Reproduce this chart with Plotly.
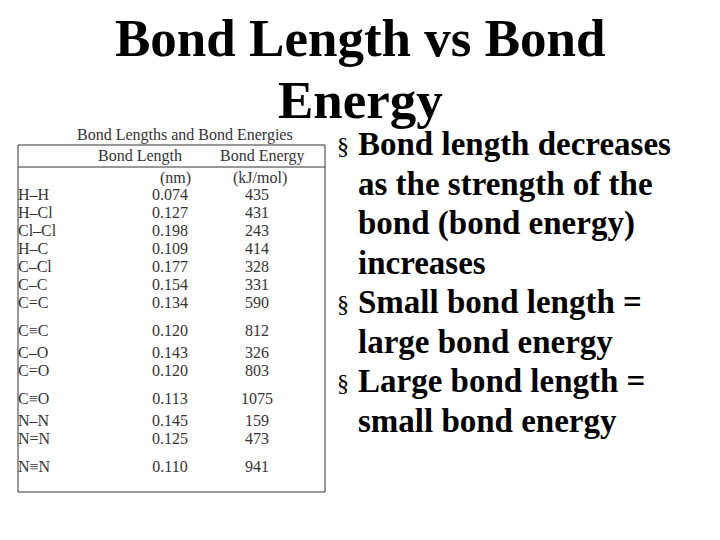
import plotly.graph_objects as go

bonds = ["H–H", "H–Cl", "Cl–Cl", "H–C", "C–Cl", "C–C", "C=C", "C≡C",
         "C–O", "C=O", "C≡O", "N–N", "N=N", "N≡N"]
lengths = ["0.074", "0.127", "0.198", "0.109", "0.177", "0.154", "0.134", "0.120",
           "0.143", "0.120", "0.113", "0.145", "0.125", "0.110"]
energies = ["435", "431", "243", "414", "328", "331", "590", "812",
            "326", "803", "1075", "159", "473", "941"]
bullets = [
    ["Bond length decreases", "as the strength of the", "bond (bond energy)", "increases"],
    ["Small bond length =", "large bond energy"],
    ["Large bond length =", "small bond energy"],
]

# row positions: extra gap before triple-bond rows
rows_y = []
y = 196
for i, b in enumerate(bonds):
    if i > 0:
        y += 18 + (10 if "≡" in b else 0) + (4 if "≡" in bonds[i - 1] else 0)
    rows_y.append(y)

tfont = dict(family="Liberation Serif", size=16, color="#333")
fig = go.Figure()
fig.add_trace(go.Scatter(x=[18] * len(bonds), y=rows_y, text=bonds, mode="text",
                         textposition="middle right", textfont=tfont))
fig.add_trace(go.Scatter(x=[170] * len(bonds), y=rows_y, text=lengths, mode="text",
                         textfont=tfont))
fig.add_trace(go.Scatter(x=[257] * len(bonds), y=rows_y, text=energies, mode="text",
                         textfont=tfont))

big = dict(family="Liberation Serif", size=53, color="black")
fig.add_annotation(x=360, y=38, text="<b>Bond Length vs Bond</b>", showarrow=False, font=big)
fig.add_annotation(x=360, y=100, text="<b>Energy</b>", showarrow=False, font=big)
for x, yy, t in [(185, 135, "Bond Lengths and Bond Energies"), (140, 156, "Bond Length"),
                 (262, 156, "Bond Energy"), (175, 178, "(nm)"), (260, 178, "(kJ/mol)")]:
    fig.add_annotation(x=x, y=yy, text=t, showarrow=False, font=tfont)

by = 144
for group in bullets:
    fig.add_annotation(x=343, y=by + 2, text="§", showarrow=False, xanchor="center",
                       font=dict(family="Liberation Serif", size=24, color="black"))
    for line in group:
        fig.add_annotation(x=356, y=by, text="<b>" + line + "</b>", showarrow=False,
                           xanchor="left", font=dict(family="Liberation Serif", size=33, color="black"))
        by += 39.5

line = dict(color="#333", width=1)
fig.add_shape(type="rect", x0=18, x1=325, y0=145, y1=492, line=line)
fig.add_shape(type="line", x0=18, x1=325, y0=167, y1=167, line=line)

fig.update_layout(width=720, height=540, margin=dict(l=0, r=0, t=0, b=0),
                  plot_bgcolor="white", paper_bgcolor="white", showlegend=False,
                  xaxis=dict(range=[8, 728], visible=False, fixedrange=True),
                  yaxis=dict(range=[548, 8], visible=False, fixedrange=True))
fig.write_html("out.html")
